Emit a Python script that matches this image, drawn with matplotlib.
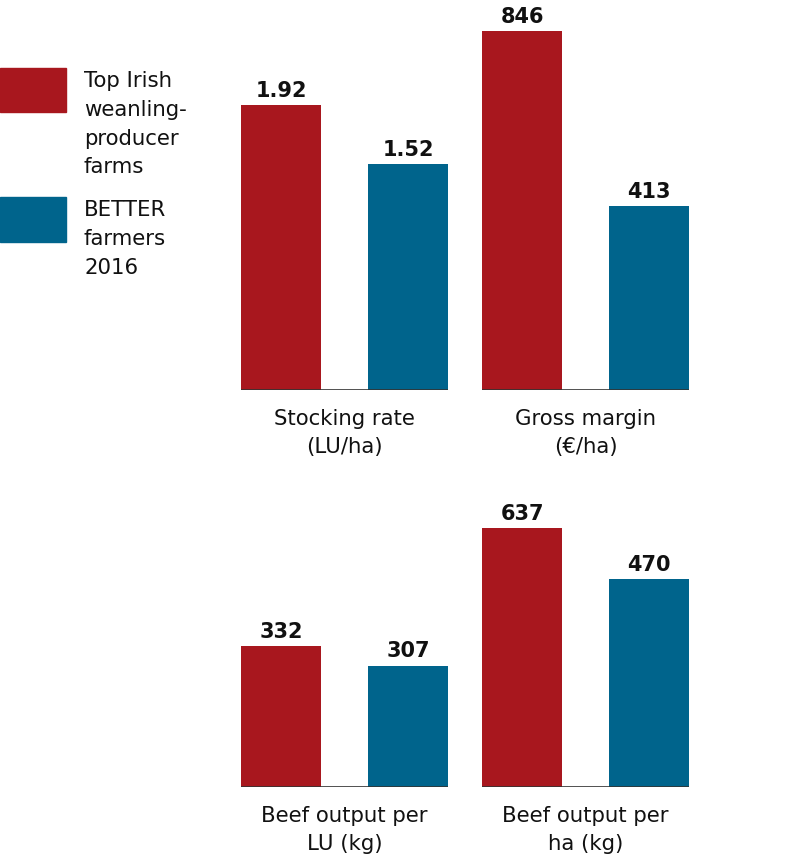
import matplotlib.pyplot as plt
from matplotlib.patches import Rectangle

plt.rcParams['font.family'] = ['DejaVu Sans']

# data
groups = ['Top Irish\nweanling-\nproducer\nfarms', 'BETTER\nfarmers\n2016']
colors = ['#a8171e', '#00648c']
metrics = ['Stocking rate\n(LU/ha)', 'Gross margin\n(€/ha)',
           'Beef output per\nLU (kg)', 'Beef output per\nha (kg)']
top_irish = [1.92, 846, 332, 637]
better = [1.52, 413, 307, 470]
labels_top = ['1.92', '846', '332', '637']
labels_better = ['1.52', '413', '307', '470']
# axis floor / ceiling of each panel (panels are scaled separately)
y_floor = [0, -43, 153, -212]
y_ceil = [2.492, 872.4, 622.5, 999.5]

W, H = 790, 861
fig = plt.figure(figsize=(W / 100, H / 100), dpi=100)

def px_axes(x0, y0, x1, y1):
    return fig.add_axes([x0 / W, 1 - y1 / H, (x1 - x0) / W, (y1 - y0) / H])

lefts = [241, 482, 241, 482]
tops = [20, 20, 417, 417]
bar_w = 0.63
fs = 15.3

for i in range(4):
    ax = px_axes(lefts[i], tops[i], lefts[i] + 207, tops[i] + 370)
    vals = [top_irish[i], better[i]]
    txts = [labels_top[i], labels_better[i]]
    base = y_floor[i]
    bars = ax.bar([0, 1], [v - base for v in vals], bottom=base, width=bar_w,
                  color=colors, zorder=2)
    for b, t in zip(bars, txts):
        ax.annotate(t, (b.get_x() + b.get_width() / 2, b.get_y() + b.get_height()),
                    xytext=(0, 3), textcoords='offset points', ha='center',
                    va='bottom', fontsize=15, fontweight='bold', color='#111111')
    ax.axhline(base, color='#333333', lw=1.2, zorder=3)
    ax.set_xlim(-0.315, 1.315)
    ax.set_ylim(base, y_ceil[i])
    ax.axis('off')
    ax.text(0.5, -0.05, metrics[i], transform=ax.transAxes, ha='center',
            va='top', fontsize=fs, linespacing=1.55, color='#111111')

# legend
fig.add_artist(Rectangle((0, 1 - 112 / H), 66 / W, 44 / H, transform=fig.transFigure,
                         color=colors[0]))
fig.add_artist(Rectangle((0, 1 - 242 / H), 66 / W, 45 / H, transform=fig.transFigure,
                         color=colors[1]))
fig.text(84 / W, 1 - 71 / H, groups[0], ha='left', va='top', fontsize=fs,
         linespacing=1.55, color='#111111')
fig.text(84 / W, 1 - 200 / H, groups[1], ha='left', va='top', fontsize=fs,
         linespacing=1.55, color='#111111')

fig.savefig('out.png', dpi=100)
